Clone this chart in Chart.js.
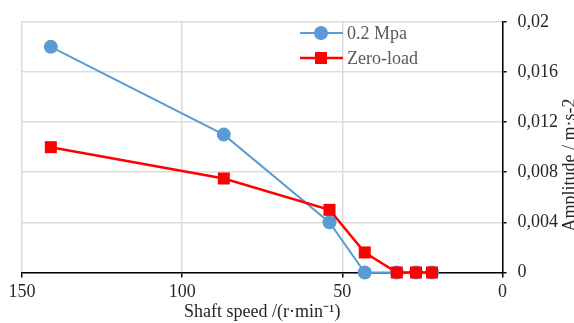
<!DOCTYPE html>
<html lang="en">
<head>
  <meta charset="UTF-8">
  <title>Amplitude vs shaft speed</title>
  <script src="https://cdn.jsdelivr.net/npm/chart.js@4.4.1/dist/chart.umd.min.js"></script>
  <style>
    html, body { margin: 0; padding: 0; background: #fff; }
    #wrap { width: 574px; height: 323px; }
  </style>
</head>
<body>
  <div id="wrap"><canvas id="chart" width="574" height="323"></canvas></div>

  <script>
    // shaft speed, r/min
    const speeds = [141, 87, 54, 43, 33, 27, 22];
    // amplitude, m/s^2
    const amp02 = [0.018, 0.011, 0.004, 0, 0, 0, 0];
    const ampZero = [0.010, 0.0075, 0.005, 0.0016, 0, 0, 0];
    const seriesNames = ['0.2 Mpa', 'Zero-load'];
    const xTitle = 'Shaft speed /(r·min⁻¹)';
    const yTitle = 'Amplitude / m·s-2';

    const FONT = 'Liberation Serif';

    const toPoints = ys => speeds.map((s, i) => ({ x: s, y: ys[i] }));

    // legend drawn inside the plot, line + marker like the original
    const innerLegend = {
      id: 'innerLegend',
      afterDraw(chart) {
        const ctx = chart.ctx;
        const rows = [33, 58];
        chart.data.datasets.forEach((ds, i) => {
          const y = rows[i];
          ctx.save();
          ctx.strokeStyle = ds.borderColor;
          ctx.lineWidth = ds.borderWidth;
          ctx.beginPath();
          ctx.moveTo(300, y);
          ctx.lineTo(343, y);
          ctx.stroke();
          ctx.fillStyle = ds.pointBackgroundColor;
          Chart.helpers.drawPoint(ctx, {
            pointStyle: ds.pointStyle, radius: ds.pointRadius, borderWidth: 0
          }, 321, y);
          ctx.fillStyle = '#595959';
          ctx.font = '18px "' + FONT + '"';
          ctx.textBaseline = 'middle';
          ctx.fillText(ds.label, 347, y + 1);
          ctx.restore();
        });
      }
    };

    // right-hand axis title reading bottom to top
    const yAxisTitle = {
      id: 'yAxisTitle',
      afterDraw(chart) {
        const ctx = chart.ctx;
        ctx.save();
        ctx.translate(575, 165);
        ctx.rotate(-Math.PI / 2);
        ctx.fillStyle = '#262626';
        ctx.font = '18px "' + FONT + '"';
        ctx.textAlign = 'center';
        ctx.textBaseline = 'alphabetic';
        ctx.fillText(yTitle, 0, 0);
        ctx.restore();
      }
    };

    drawChart();

    function drawChart() {
      const context = document.getElementById('chart').getContext('2d');
      new Chart(context, {
        type: 'line',
        data: {
          datasets: [
            {
              label: seriesNames[0],
              data: toPoints(amp02),
              borderColor: '#5B9BD5',
              backgroundColor: '#5B9BD5',
              pointBackgroundColor: '#5B9BD5',
              pointBorderWidth: 0,
              pointStyle: 'circle',
              pointRadius: 7,
              borderWidth: 2,
              clip: false,
              order: 1
            },
            {
              label: seriesNames[1],
              data: toPoints(ampZero),
              borderColor: '#FF0000',
              backgroundColor: '#FF0000',
              pointBackgroundColor: '#FF0000',
              pointBorderWidth: 0,
              pointStyle: 'rect',
              pointRadius: 8.5,
              borderWidth: 2.5,
              clip: false,
              order: 0
            }
          ]
        },
        options: {
          responsive: false,
          animation: false,
          layout: { padding: { left: 22, top: 12, right: 0, bottom: 0 } },
          plugins: {
            legend: { display: false },
            tooltip: { enabled: false }
          },
          scales: {
            x: {
              type: 'linear',
              reverse: true,
              min: 0,
              max: 150,
              ticks: {
                stepSize: 50,
                color: '#262626',
                font: { family: FONT, size: 18 },
                padding: 4
              },
              grid: {
                color: '#dcdcdc',
                lineWidth: 1.5,
                tickColor: '#000',
                tickLength: 5,
                tickWidth: 1.5
              },
              border: { color: '#000', width: 1.5 },
              title: {
                display: true,
                text: xTitle,
                color: '#262626',
                font: { family: FONT, size: 18 },
                padding: { top: -7, bottom: 0 }
              },
              afterFit: s => { s.height = 50.5; }
            },
            y: {
              position: 'right',
              min: 0,
              max: 0.02,
              ticks: {
                stepSize: 0.004,
                color: '#262626',
                font: { family: FONT, size: 18 },
                padding: 11,
                callback: v => v === 0 ? '0' : String(+v.toFixed(3)).replace('.', ',')
              },
              grid: {
                color: '#dcdcdc',
                lineWidth: 1.5,
                tickColor: '#000',
                tickLength: 4,
                tickWidth: 1.5
              },
              border: { color: '#000', width: 1.5 },
              afterFit: s => { s.width = 71.5; }
            }
          }
        },
        plugins: [innerLegend, yAxisTitle]
      });
    }
  </script>
</body>
</html>
